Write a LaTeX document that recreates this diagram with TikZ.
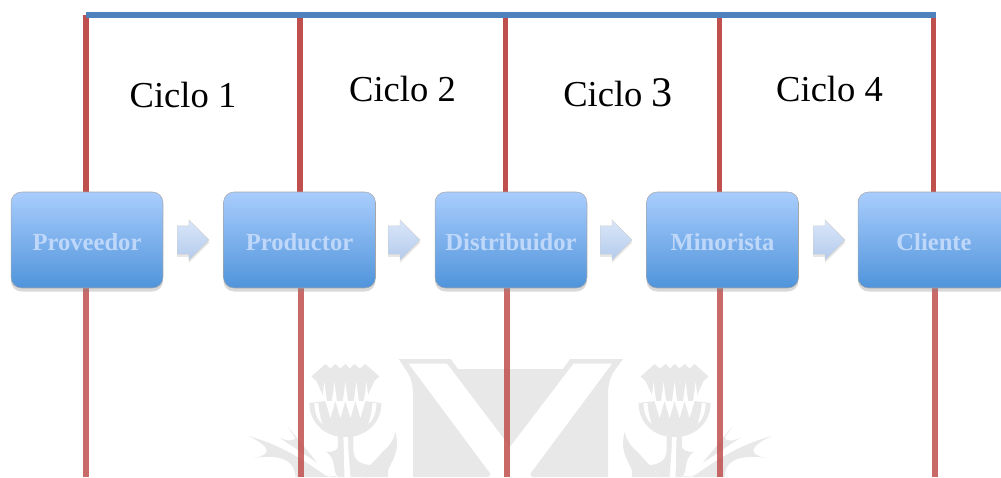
\documentclass[tikz,border=0pt]{standalone}
\usepackage{fontspec}
\setmainfont{Liberation Serif}
\usetikzlibrary{shadows,shapes.arrows,backgrounds}
\definecolor{boxtop}{HTML}{A9CDFD}
\definecolor{boxbottom}{HTML}{5094DB}
\definecolor{boxtext}{HTML}{BFD8FA}
\definecolor{arrowtop}{HTML}{D9E6F9}
\definecolor{arrowbottom}{HTML}{B4CBEC}
\definecolor{redline}{HTML}{C0504D}
\definecolor{blueline}{HTML}{4F81BD}
\definecolor{markgray}{HTML}{E8E8E8}
\newcommand\cardo{% cardo en coordenadas relativas a su eje
    \fill[marca] (-20,364) -- (-15,368.5) -- (-10,364) -- (-5,368.5) -- (0,364) -- (4.5,368.5) -- (9,364) -- (14.5,368.5) -- (20,364)
        -- (34,376.5) -- (29,381) -- (20,401) -- (36,403)
        .. controls (36,420) and (25,433) .. (8,436.5) -- (8,450)
        .. controls (8,460) and (15,465) .. (27,465)
        .. controls (20,470) and (17,473) .. (15,477) -- (-2,477) -- (-7.5,477)
        .. controls (-14,470) and (-8,460) .. (-19,452)
        .. controls (-12,452) and (-8,450) .. (-7.5,447) -- (-7.5,436.5)
        .. controls (-25,433) and (-36,420) .. (-36,403) -- (-20,401) -- (-29,381) -- (-34,376.5) -- cycle;
    \fill[white] (-2,437) -- (2.5,437) -- (3,450) -- (5,477) -- (-1,477) -- (-1.5,450) -- cycle;
    \foreach \punta in {-21,-11,0,11,21}{
        \fill[white] (\punta-2.5,401) -- (\punta,382) -- (\punta+2.5,401) -- cycle;
    }
    \foreach \diente in {-15,-5,5,15}{
        \fill[white] (\diente-5,401) -- (\diente,418) -- (\diente+5,401) -- cycle;
    }
    \fill[white] (-31,403) .. controls (-31,412) and (-28,420) .. (-23,424) .. controls (-26,414) and (-27,408) .. (-27,403) -- cycle;
    \fill[white] (31,403) .. controls (31,412) and (28,420) .. (23,424) .. controls (26,414) and (27,408) .. (27,403) -- cycle;
    % hojas
    \fill[marca] (-97,436) .. controls (-65,445) and (-45,458) .. (-22,474)
        .. controls (-17,478) and (-10,478) .. (-8,476) -- (-20,477) -- (-50,477)
        .. controls (-50,465) and (-58,453) .. (-92,458)
        .. controls (-75,455) and (-72,448) .. cycle;
    \fill[marca] (-58,426) -- (-28,463) -- (-67,437) .. controls (-58,442) and (-52,441) .. (-50,438) -- cycle;
    \fill[marca] (50,432) .. controls (53,445) and (52,452) .. (45,465) .. controls (42,470) and (42,474) .. (43,477)
        -- (15,477) .. controls (20,470) and (30,460) .. (37,452) .. controls (45,445) and (48,440) .. cycle;
}
\tikzset{
    x=0.02cm,y=-0.02cm,
    stage/.style={draw=black!35,line width=0.3pt,rounded corners=6pt,minimum width=3.04cm,minimum height=1.92cm,
        text height=11.6pt,text depth=0pt,
        top color=boxtop,bottom color=boxbottom,text=boxtext,font=\bfseries\fontsize{14}{16}\selectfont,
        drop shadow={shadow xshift=0pt,shadow yshift=-2pt,opacity=.3}},
    flecha/.style={single arrow,anchor=tail,draw=black!20,line width=0.2pt,inner xsep=0pt,inner ysep=0.28cm,minimum height=0.64cm,
        single arrow head extend=0.12cm,top color=arrowtop,bottom color=arrowbottom,
        drop shadow={shadow xshift=0pt,shadow yshift=-1.5pt,opacity=.2}},
    ciclo/.style={font=\fontsize{20.8}{24}\selectfont},
    divisor/.style={draw=redline,line width=2.85pt},
    divisorbajo/.style={draw=redline,line width=3.2pt,opacity=.85},
    marca/.style={fill=markgray,draw=none},
}
\begin{document}
\begin{tikzpicture}
    \useasboundingbox (0,0) rectangle (1001,477);
    % cajas
    \node[stage] (proveedor) at (87,240) {Proveedor};
    \node[stage] (productor) at (299.5,240) {Productor};
    \node[stage] (distribuidor) at (511,240) {Distribuidor};
    \node[stage] (minorista) at (722.5,240) {Minorista};
    \node[stage] (cliente) at (934,240) {Cliente};
    \node[flecha] (f1) at (177,240) {};
    \node[flecha] (f2) at (388,240) {};
    \node[flecha] (f3) at (600,240) {};
    \node[flecha] (f4) at (813,240) {};
    % etiquetas
    \node[ciclo] (c1) at (183,95) {Ciclo 1};
    \node[ciclo] (c2) at (402.5,89) {Ciclo 2};
    \node[ciclo] (c3) at (618,93) {Ciclo {\fontsize{24}{24}\selectfont 3}};
    \node[ciclo] (c4) at (829.5,89) {Ciclo 4};
    % lineas
    \coordinate (a1) at (86,15);
    \coordinate (a2) at (300,15);
    \coordinate (a3) at (505,15);
    \coordinate (a4) at (719,15);
    \coordinate (a5) at (933,15);
    \coordinate (b1) at (86,477);
    \coordinate (b2) at (301,477);
    \coordinate (b3) at (507,477);
    \coordinate (b4) at (720,477);
    \coordinate (b5) at (935,477);
    \coordinate (fin) at (936,15);
    \begin{scope}[on background layer]
        % marca de agua
        \fill[marca] (398.6,359) -- (450.7,359) -- (458,369) -- (563,369) -- (570,359) -- (623,359) -- (615,370)
            .. controls (610,377) and (608,385) .. (608,394) -- (608,477) -- (413,477) -- (413,394)
            .. controls (413,385) and (411,377) .. (406,370) -- cycle;
        \fill[white] (408.6,363.6) -- (447,363.6) -- (510,447) -- (573.6,363.6) -- (612,363.6)
            -- (530,474) -- (532.5,477) -- (488.5,477) -- (490.7,474) -- cycle;
        \begin{scope}[shift={(345.4,0)}]
            \cardo
        \end{scope}
        \begin{scope}[shift={(674.6,0)},xscale=-1]
            \cardo
        \end{scope}
        % divisiones
        \draw[divisor] (a1) -- (a1 |- proveedor.north);
        \draw[divisor] (a2) -- (a2 |- productor.north);
        \draw[divisor] (a3) -- (a3 |- distribuidor.north);
        \draw[divisor] (a4) -- (a4 |- minorista.north);
        \draw[divisor] (a5) -- (a5 |- cliente.north);
        \draw[divisorbajo] (b1) -- (b1 |- proveedor.south);
        \draw[divisorbajo] (b2) -- (b2 |- productor.south);
        \draw[divisorbajo] (b3) -- (b3 |- distribuidor.south);
        \draw[divisorbajo] (b4) -- (b4 |- minorista.south);
        \draw[divisorbajo] (b5) -- (b5 |- cliente.south);
        \draw[blueline,line width=2.85pt] (a1) -- (fin);
    \end{scope}
\end{tikzpicture}
\end{document}
